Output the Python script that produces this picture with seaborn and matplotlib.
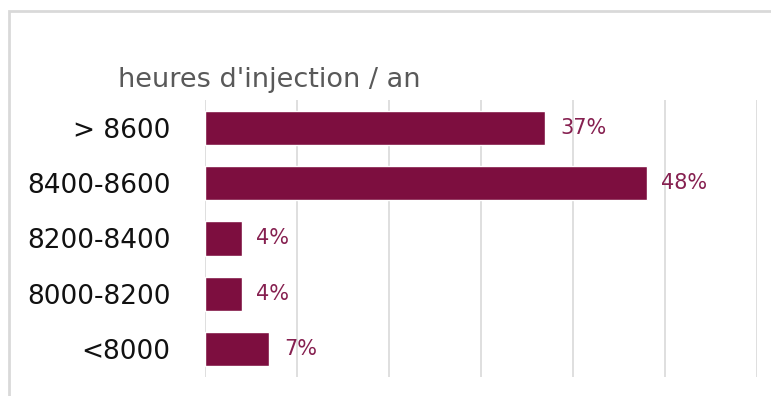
import matplotlib
matplotlib.use("Agg")
import matplotlib.pyplot as plt
import seaborn as sns
import pandas as pd
from matplotlib.patches import Rectangle

# data
categories = ["> 8600", "8400-8600", "8200-8400", "8000-8200", "<8000"]
shares = [37, 48, 4, 4, 7]
title = "heures d'injection / an"

bar_color = "#7D0E3F"
label_color = "#862050"

sns.set_theme(style="white")
plt.rcParams["font.family"] = ["DejaVu Sans"]

df = pd.DataFrame({"cat": categories, "pct": shares})

fig = plt.figure(figsize=(7.71, 3.96), dpi=100)
ax = fig.add_axes([205 / 771, 1 - 377 / 396, (757 - 205) / 771, 277 / 396])

sns.barplot(data=df, x="pct", y="cat", orient="h", color=bar_color,
            saturation=1, width=0.62, ax=ax)

ax.set_xlim(0, 60)
ax.set_ylim(4.5, -0.5)
ax.set_xticks(range(0, 61, 10))
ax.set_xticklabels([])
ax.xaxis.grid(True, color="#D9D9D9", linewidth=1.2)
ax.yaxis.grid(False)
ax.set_axisbelow(True)
for s in ax.spines.values():
    s.set_visible(False)
ax.set_xlabel("")
ax.set_ylabel("")
ax.tick_params(axis="y", length=0, pad=25, labelsize=19, labelcolor="#111111")
ax.tick_params(axis="x", length=0)

ax.bar_label(ax.containers[0], labels=[f"{v}%" for v in shares],
             padding=10.5, fontsize=15, color=label_color)

fig.text(118 / 771, 1 - 87 / 396, title, fontsize=19.5, color="#595959",
         ha="left", va="baseline")

# light frame around the chart area
fig.patches.append(Rectangle((9 / 771, -0.2), 1.2, 1.2 - 11 / 396 + 0.0,
                             transform=fig.transFigure, fill=False,
                             edgecolor="#D9D9D9", linewidth=2))

fig.savefig("out.png", dpi=100)
